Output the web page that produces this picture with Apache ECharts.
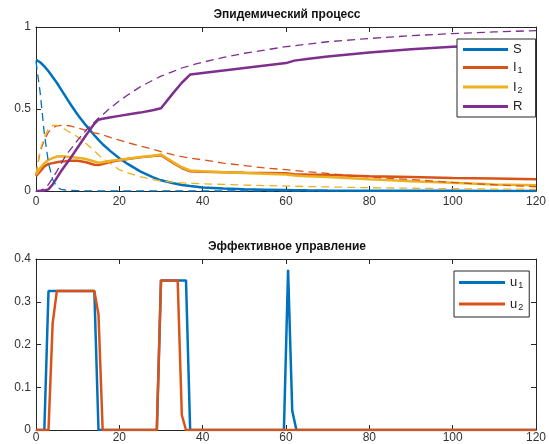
<!DOCTYPE html>
<html>
<head>
<meta charset="utf-8">
<script src="https://cdn.jsdelivr.net/npm/echarts@6/dist/echarts.min.js"></script>
<style>
  html, body { margin: 0; padding: 0; background: #fff; }
  #chart { width: 549px; height: 444px; }
</style>
</head>
<body>
<div id="chart"></div>
<script>
// Time grid for the epidemic curves (days)
const tEpi = [0, 1, 2, 3, 4, 5, 6, 7, 8, 10, 12, 14, 15, 16, 18, 20, 22, 25, 28, 30, 33, 35, 37, 40, 45, 50, 55, 60, 62, 65, 70, 80, 90, 100, 110, 120];

// Controlled process (solid lines)
const sCtrl  = [0.80, 0.785, 0.76, 0.73, 0.695, 0.66, 0.62, 0.58, 0.54, 0.465, 0.40, 0.34, 0.312, 0.285, 0.24, 0.20, 0.165, 0.12, 0.085, 0.065, 0.047, 0.037, 0.03, 0.022, 0.015, 0.01, 0.008, 0.006, 0.005, 0.004, 0.003, 0.002, 0.001, 0.001, 0, 0];
const i1Ctrl = [0.09, 0.12, 0.15, 0.165, 0.17, 0.175, 0.18, 0.182, 0.185, 0.185, 0.175, 0.16, 0.158, 0.165, 0.178, 0.187, 0.195, 0.205, 0.213, 0.218, 0.17, 0.14, 0.12, 0.118, 0.115, 0.112, 0.11, 0.108, 0.102, 0.1, 0.097, 0.09, 0.085, 0.08, 0.076, 0.072];
const i2Ctrl = [0.10, 0.14, 0.17, 0.19, 0.20, 0.21, 0.212, 0.21, 0.208, 0.203, 0.195, 0.18, 0.172, 0.175, 0.185, 0.19, 0.197, 0.207, 0.215, 0.222, 0.175, 0.145, 0.125, 0.12, 0.115, 0.11, 0.105, 0.1, 0.095, 0.09, 0.085, 0.072, 0.06, 0.05, 0.04, 0.035];
const rCtrl  = [0, 0, 0.003, 0.01, 0.04, 0.08, 0.12, 0.155, 0.19, 0.265, 0.34, 0.41, 0.435, 0.44, 0.45, 0.458, 0.466, 0.478, 0.492, 0.505, 0.6, 0.66, 0.71, 0.72, 0.735, 0.75, 0.765, 0.78, 0.795, 0.805, 0.82, 0.845, 0.865, 0.88, 0.89, 0.895];

// Uncontrolled process (dashed lines)
const sFree  = [0.79, 0.60, 0.35, 0.17, 0.07, 0.025, 0.01, 0.006, 0.004, 0.002, 0.001, 0, 0, 0, 0, 0, 0, 0, 0, 0, 0, 0, 0, 0, 0, 0, 0, 0, 0, 0, 0, 0, 0, 0, 0, 0];
const i1Free = [0.10, 0.24, 0.31, 0.36, 0.385, 0.397, 0.40, 0.40, 0.398, 0.385, 0.37, 0.355, 0.35, 0.342, 0.325, 0.31, 0.295, 0.275, 0.255, 0.24, 0.22, 0.21, 0.2, 0.19, 0.17, 0.155, 0.14, 0.13, 0.125, 0.118, 0.107, 0.085, 0.07, 0.052, 0.038, 0.026];
const i2Free = [0.10, 0.25, 0.33, 0.38, 0.40, 0.40, 0.39, 0.375, 0.36, 0.33, 0.29, 0.245, 0.22, 0.20, 0.165, 0.13, 0.11, 0.087, 0.07, 0.062, 0.053, 0.05, 0.047, 0.044, 0.04, 0.036, 0.033, 0.03, 0.029, 0.027, 0.025, 0.02, 0.017, 0.014, 0.012, 0.01];
const rFree  = [0, 0.003, 0.015, 0.04, 0.08, 0.12, 0.165, 0.21, 0.245, 0.31, 0.37, 0.42, 0.445, 0.465, 0.51, 0.55, 0.585, 0.635, 0.675, 0.70, 0.73, 0.75, 0.765, 0.785, 0.815, 0.84, 0.86, 0.88, 0.885, 0.895, 0.91, 0.93, 0.947, 0.96, 0.97, 0.978];

// Optimal controls
const tU1 = [0, 2, 3, 14, 15, 29, 30, 36, 37, 59.5, 60.5, 61.5, 62.5, 120];
const u1  = [0, 0, 0.325, 0.325, 0, 0, 0.35, 0.35, 0, 0, 0.375, 0.045, 0, 0];
const tU2 = [0, 3, 4, 5, 14, 15, 16, 29, 30, 34, 35, 36, 120];
const u2  = [0, 0, 0.25, 0.325, 0.325, 0.27, 0, 0, 0.35, 0.35, 0.035, 0, 0];

// Axis ticks
const xTicks = { min: 0, max: 120, interval: 20 };
const yTicksTop = { min: 0, max: 1, interval: 0.5 };
const yTicksBottom = { min: 0, max: 0.4, interval: 0.1 };

const titleTop = 'Эпидемический процесс';
const titleBottom = 'Эффективное управление';

const C = { blue: '#0072BD', orange: '#D95319', yellow: '#EDB120', purple: '#7E2F8E' };
const AXIS = '#262626';
const FONT = 'Liberation Sans, Arial, sans-serif';

const pairs = (xs, ys) => xs.map((x, i) => [x, ys[i]]);

function xAxisDef(gridIndex, position, showLabels, labelMargin) {
  return {
    type: 'value', gridIndex, position, ...xTicks,
    axisLine: { show: true, onZero: false, lineStyle: { color: AXIS, width: 1 } },
    axisTick: { show: true, inside: true, length: 5, lineStyle: { color: AXIS } },
    axisLabel: { show: showLabels, color: '#333', fontSize: 12, fontFamily: FONT, margin: labelMargin },
    splitLine: { show: false }
  };
}
function yAxisDef(gridIndex, position, ticks, showLabels) {
  return {
    type: 'value', gridIndex, position, ...ticks,
    axisLine: { show: true, onZero: false, lineStyle: { color: AXIS, width: 1 } },
    axisTick: { show: true, inside: true, length: 5, lineStyle: { color: AXIS } },
    axisLabel: { show: showLabels, color: '#333', fontSize: 12, fontFamily: FONT, margin: 5,
                 formatter: v => String(Math.round(v * 10) / 10) },
    splitLine: { show: false }
  };
}

function solid(name, color, xs, ys, xi, yi) {
  return { name, type: 'line', xAxisIndex: xi, yAxisIndex: yi, data: pairs(xs, ys),
           symbol: 'none', color, itemStyle: { color },
           lineStyle: { color, width: 2.5 }, animation: false, z: 3 };
}
function dashed(name, color, xs, ys) {
  return { name, type: 'line', xAxisIndex: 0, yAxisIndex: 0, data: pairs(xs, ys),
           symbol: 'none', color, itemStyle: { color },
           lineStyle: { color, width: 1.3, type: [8, 5] }, animation: false, z: 4 };
}

const subFormatter = name => name.length > 1 ? name[0] + '{sub|' + name.slice(1) + '}' : name;
const legendText = {
  color: '#222', fontSize: 13, fontFamily: FONT,
  rich: { sub: { fontSize: 9, fontFamily: FONT, color: '#222', padding: [7, 0, 0, 1] } }
};

const chart = echarts.init(document.getElementById('chart'), null, { renderer: 'canvas' });
chart.setOption({
  backgroundColor: '#fff',
  animation: false,
  title: [
    { text: titleTop, left: 287, top: 9, textAlign: 'center', padding: 0,
      textStyle: { fontSize: 12, fontWeight: 'bold', color: '#111', fontFamily: FONT } },
    { text: titleBottom, left: 287, top: 241, textAlign: 'center', padding: 0,
      textStyle: { fontSize: 12, fontWeight: 'bold', color: '#111', fontFamily: FONT } }
  ],
  grid: [
    { left: 36, right: 10, top: 27, height: 164 },
    { left: 36, right: 10, top: 259, height: 173 }
  ],
  xAxis: [
    xAxisDef(0, 'bottom', true, 5),
    xAxisDef(0, 'top', false, 5),
    xAxisDef(1, 'bottom', true, 2),
    xAxisDef(1, 'top', false, 2)
  ],
  yAxis: [
    yAxisDef(0, 'left', yTicksTop, true),
    yAxisDef(0, 'right', yTicksTop, false),
    yAxisDef(1, 'left', yTicksBottom, true),
    yAxisDef(1, 'right', yTicksBottom, false)
  ],
  legend: [
    { data: ['S', 'I1', 'I2', 'R'], orient: 'vertical', left: 457, top: 39,
      icon: 'rect', itemWidth: 45, itemHeight: 3, itemGap: 5,
      padding: [4, 13, 4, 6], borderColor: AXIS, borderWidth: 1, borderRadius: 0,
      backgroundColor: '#fff', selectedMode: false,
      formatter: subFormatter, textStyle: legendText },
    { data: ['u1', 'u2'], orient: 'vertical', left: 454, top: 271,
      icon: 'rect', itemWidth: 46, itemHeight: 3, itemGap: 7,
      padding: [5, 6, 5, 5], borderColor: AXIS, borderWidth: 1, borderRadius: 0,
      backgroundColor: '#fff', selectedMode: false,
      formatter: subFormatter, textStyle: legendText }
  ],
  series: [
    solid('S', C.blue, tEpi, sCtrl, 0, 0),
    solid('I1', C.orange, tEpi, i1Ctrl, 0, 0),
    solid('I2', C.yellow, tEpi, i2Ctrl, 0, 0),
    solid('R', C.purple, tEpi, rCtrl, 0, 0),
    dashed('S без управления', C.blue, tEpi, sFree),
    dashed('I1 без управления', C.orange, tEpi, i1Free),
    dashed('I2 без управления', C.yellow, tEpi, i2Free),
    dashed('R без управления', C.purple, tEpi, rFree),
    solid('u1', C.blue, tU1, u1, 2, 2),
    solid('u2', C.orange, tU2, u2, 2, 2)
  ]
});
</script>
</body>
</html>
